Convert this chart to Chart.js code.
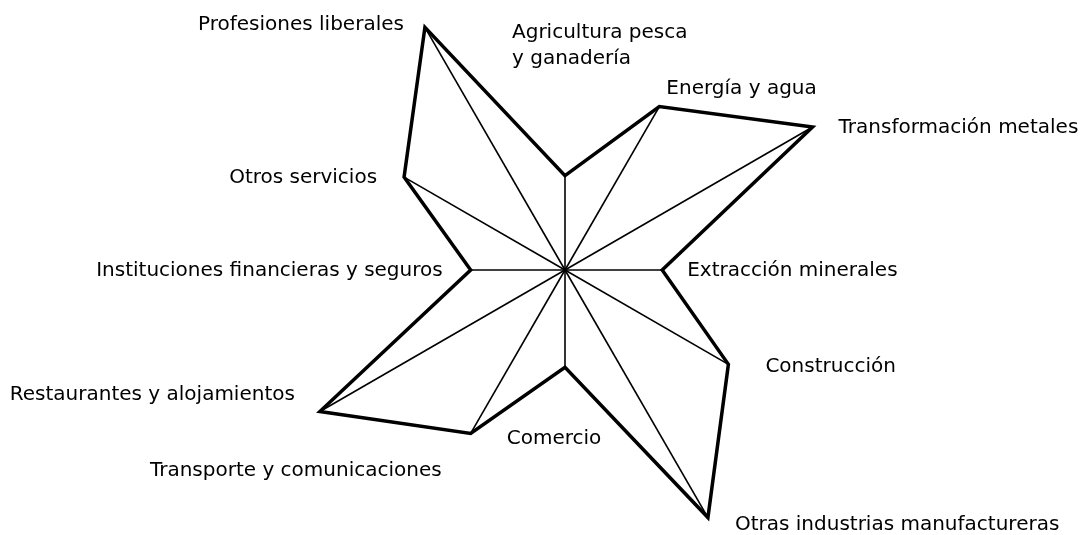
<!DOCTYPE html>
<html>
<head>
<meta charset="utf-8">
<script src="https://cdn.jsdelivr.net/npm/chart.js@4"></script>
<style>
  html, body { margin: 0; padding: 0; background: #fff; }
  #wrap { width: 1087px; height: 535px; position: relative; }
</style>
</head>
<body>
<div id="wrap"><canvas id="radar"></canvas></div>
<script>
// Sectores (clockwise from the top)
const sectores = [
    ['Agricultura pesca', 'y ganadería'],
    'Energía y agua',
    'Transformación metales',
    'Extracción minerales',
    'Construcción',
    'Otras industrias manufactureras',
    'Comercio',
    'Transporte y comunicaciones',
    'Restaurantes y alojamientos',
    'Instituciones financieras y seguros',
    'Otros servicios',
    'Profesiones liberales'
];
const valores = [33, 66, 100, 34, 66, 100, 34, 66, 99, 33, 65, 98];

// where each label sits relative to its vertex
const labelPos = [
    { align: 'left', dx: -53, dy: -143 },
    { align: 'left', dx: 7, dy: -18 },
    { align: 'left', dx: 26, dy: 1 },
    { align: 'left', dx: 25, dy: 1 },
    { align: 'left', dx: 37, dy: 2 },
    { align: 'left', dx: 27, dy: 7 },
    { align: 'center', dx: -11, dy: 72 },
    { align: 'right', dx: -29, dy: 37 },
    { align: 'right', dx: -25, dy: -17 },
    { align: 'right', dx: -28, dy: 1 },
    { align: 'right', dx: -27, dy: 1 },
    { align: 'right', dx: -21, dy: -3 }
];

const spokesAndLabels = {
    id: 'spokesAndLabels',
    afterDatasetsDraw(chart) {
        const ctx = chart.ctx;
        const r = chart.scales.r;
        const data = chart.data.datasets[0].data;
        ctx.save();
        ctx.strokeStyle = '#000';
        ctx.lineWidth = 1.6;
        data.forEach((v, i) => {
            const p = r.getPointPositionForValue(i, v);
            ctx.beginPath();
            ctx.moveTo(r.xCenter, r.yCenter);
            ctx.lineTo(p.x, p.y);
            ctx.stroke();
        });
        ctx.fillStyle = '#000';
        ctx.font = '20px "DejaVu Sans", Verdana, sans-serif';
        ctx.textBaseline = 'middle';
        data.forEach((v, i) => {
            const p = r.getPointPositionForValue(i, v);
            const pos = labelPos[i];
            const lines = [].concat(chart.data.labels[i]);
            ctx.textAlign = pos.align;
            lines.forEach((t, k) => {
                ctx.fillText(t, p.x + pos.dx, p.y + pos.dy + k * 26);
            });
        });
        ctx.restore();
    }
};

new Chart(document.getElementById('radar'), {
    type: 'radar',
    data: {
        labels: sectores,
        datasets: [{
            data: valores,
            borderColor: '#000',
            borderWidth: 3.5,
            backgroundColor: 'transparent',
            fill: false,
            tension: 0,
            pointRadius: 0,
            pointHoverRadius: 0
        }]
    },
    options: {
        responsive: true,
        maintainAspectRatio: false,
        animation: false,
        layout: { padding: { left: 43, top: 5, right: 0, bottom: 0 } },
        elements: { line: { borderJoinStyle: 'miter' } },
        plugins: {
            legend: { display: false },
            tooltip: { enabled: false }
        },
        scales: {
            r: {
                min: 0,
                max: 92.7,
                ticks: { display: false },
                grid: { display: false },
                angleLines: { display: false },
                pointLabels: { display: false }
            }
        }
    },
    plugins: [spokesAndLabels]
});
</script>
</body>
</html>
